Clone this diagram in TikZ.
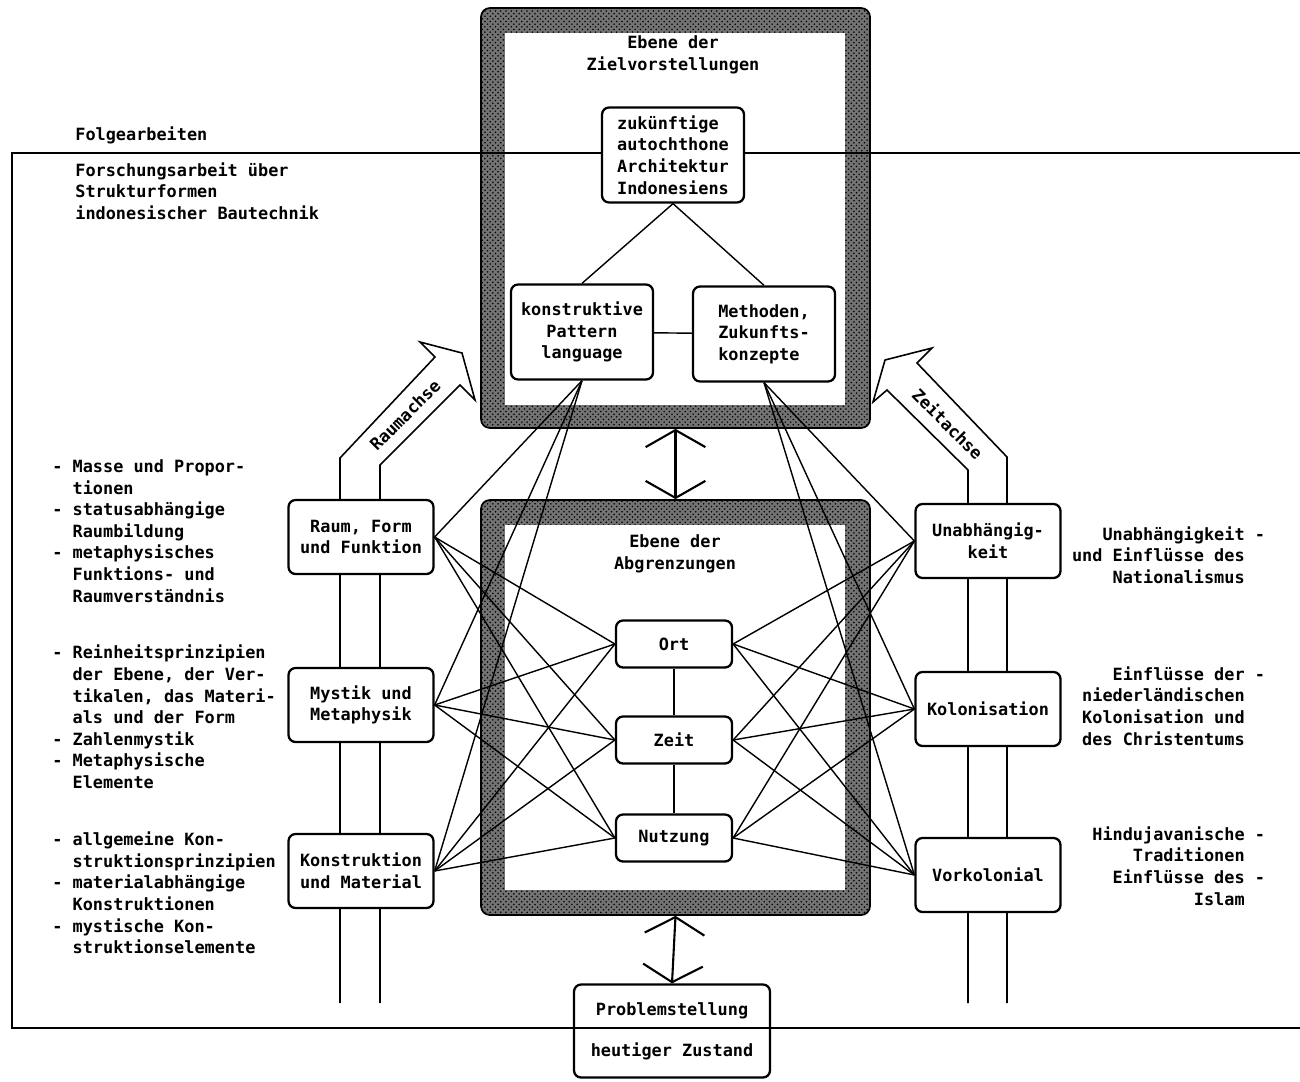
\documentclass[tikz,border=0pt]{standalone}
\usepackage{fontspec}
\setmonofont{DejaVu Sans Mono}
\usetikzlibrary{arrows.meta,patterns}

\pgfdeclarelayer{back}
\pgfdeclarelayer{wires}
\pgfsetlayers{back,wires,main}

\newcommand{\ind}{\hphantom{- }}
\newcommand{\trail}{\rlap{ -}}

\begin{document}
\begin{tikzpicture}[
    x=0.02cm, y=-0.02cm,
    font=\ttfamily\bfseries\fontsize{9.6}{12.3}\selectfont,
    box/.style={draw, fill=white, rounded corners=4pt, line width=1.3pt,
                align=center, inner sep=0pt,
                minimum width=2.9cm, minimum height=1.48cm},
    small/.style={box, minimum width=2.32cm, minimum height=0.94cm},
    goal/.style={box, minimum width=2.84cm, minimum height=1.9cm},
    frame/.style={draw, line width=1pt, rounded corners=5pt, inner sep=0pt,
                  preaction={fill=black!55}, pattern=crosshatch dots,
                  pattern color=black},
    hole/.style={fill=white, inner sep=0pt},
    note/.style={inner sep=0pt, align=left},
    rnote/.style={inner sep=0pt, align=right, anchor=east},
    wire/.style={line width=0.8pt},
    axis/.style={line width=0.9pt, line join=miter},
    dbl/.style={{Straight Barb[length=9.7pt,width=34pt]}-{Straight Barb[length=9.7pt,width=34pt]},
                line width=1.2pt}
]
\useasboundingbox (0,0) rectangle (1300,1081);

% hatched levels
\begin{pgfonlayer}{back}
\node[frame, minimum width=7.78cm, minimum height=8.4cm] (zielbox) at (675.5,218) {};
\node[hole, minimum width=6.8cm, minimum height=7.44cm] (zielhole) at (675,219) {};
\node[frame, minimum width=7.78cm, minimum height=8.3cm] (grenzbox) at (675.5,707.5) {};
\node[hole, minimum width=6.8cm, minimum height=7.3cm] (grenzhole) at (675,707.5) {};
\end{pgfonlayer}

\node[inner sep=0pt, align=center] (zieltitle) at (673,55) {Ebene der\\Zielvorstellungen};
\node[inner sep=0pt, align=center] (grenztitle) at (675,554) {Ebene der\\Abgrenzungen};

% boxes
\node[goal, align=left] (zukunft) at (673,155) {zukünftige\\autochthone\\Architektur\\Indonesiens};
\node[goal] (pattern) at (582,332) {konstruktive\\Pattern\\language};
\node[goal, align=left] (methoden) at (764,334) {Methoden,\\Zukunfts-\\konzepte};

\node[small] (ort) at (674,644) {Ort};
\node[small] (zeit) at (674,740) {Zeit};
\node[small] (nutzung) at (674,838) {Nutzung};

\node[box] (raum) at (361,537) {Raum, Form\\und Funktion};
\node[box] (mystik) at (361,705) {Mystik und\\Metaphysik};
\node[box] (konstruktion) at (361,871) {Konstruktion\\und Material};

\node[box] (unab) at (988,541) {Unabhängig-\\keit};
\node[box] (kolon) at (988,709) {Kolonisation};
\node[box] (vorkol) at (988,875) {Vorkolonial};

\node[draw, rounded corners=4pt, line width=1.3pt, inner sep=0pt, align=center,
      minimum width=3.92cm, minimum height=1.86cm] (prob) at (672,1031)
      {Problemstellung\\[11pt]heutiger Zustand};

% texts
\node[note, anchor=west] (folge) at (75,135) {Folgearbeiten};
\node[note, anchor=west] (forschung) at (75,191)
    {Forschungsarbeit über\\Strukturformen\\indonesischer Bautechnik};
\node[note, anchor=west] (raumtxt) at (52,531)
    {- Masse und Propor-\\\ind tionen\\- statusabhängige\\\ind Raumbildung\\- metaphysisches\\\ind Funktions- und\\\ind Raumverständnis};
\node[note, anchor=west] (mystiktxt) at (52,717)
    {- Reinheitsprinzipien\\\ind der Ebene, der Ver-\\\ind tikalen, das Materi-\\\ind als und der Form\\- Zahlenmystik\\- Metaphysische\\\ind Elemente};
\node[note, anchor=west] (konstrtxt) at (52,893)
    {- allgemeine Kon-\\\ind struktionsprinzipien\\- materialabhängige\\\ind Konstruktionen\\- mystische Kon-\\\ind struktionselemente};
\node[rnote] (unabtxt) at (1245,555)
    {Unabhängigkeit\trail\\und Einflüsse des\\Nationalismus};
\node[rnote] (kolontxt) at (1245,706)
    {Einflüsse der\trail\\niederländischen\\Kolonisation und\\des Christentums};
\node[rnote] (vorkoltxt) at (1245,866)
    {Hindujavanische\trail\\Traditionen\\Einflüsse des\trail\\Islam};

\node[rotate=45, inner sep=0pt] (raumachse) at (405,415) {Raumachse};
\node[rotate=-45, inner sep=0pt] (zeitachse) at (948,424) {Zeitachse};

\begin{pgfonlayer}{wires}
% frame of the study
\draw[line width=0.9pt] (1300,153) -- (12,153) -- (12,1028) -- (1300,1028);

% axes
\draw[axis] (340,1003) -- (340,458) -- (435,357) -- (420,342) -- (462,353)
    -- (475,400) -- (460,385) -- (380,465) -- (380,1003);
\draw[axis] (968,1003) -- (968,470) -- (887,390) -- (873,402) -- (885,360)
    -- (932,348) -- (917,363) -- (1007,457) -- (1007,1003);

% links
\draw[wire] (zukunft.south) -- (pattern.north);
\draw[wire] (zukunft.south) -- (methoden.north);
\draw[wire] (pattern) -- (methoden);
\draw[wire] (ort) -- (zeit) -- (nutzung);
\foreach \s in {raum,mystik,konstruktion}{
    \draw[wire] (\s.east) -- (pattern.south);
    \foreach \t in {ort,zeit,nutzung}
        \draw[wire] (\s.east) -- (\t.west);
}
\foreach \s in {unab,kolon,vorkol}{
    \draw[wire] (\s.west) -- (methoden.south);
    \foreach \t in {ort,zeit,nutzung}
        \draw[wire] (\s.west) -- (\t.east);
}
\end{pgfonlayer}

\draw[dbl] (zielbox.south) -- (grenzbox.north);
\draw[dbl] (grenzbox.south) -- (prob.north);

\end{tikzpicture}
\end{document}
